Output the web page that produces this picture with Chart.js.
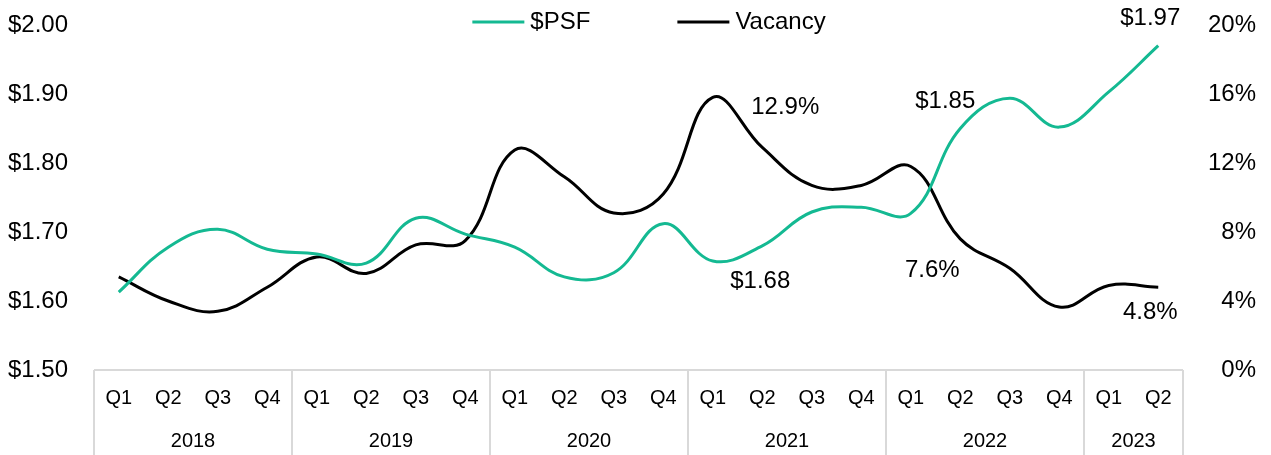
<!DOCTYPE html>
<html>
<head>
<meta charset="utf-8">
<script src="https://cdn.jsdelivr.net/npm/chart.js@4.4.0/dist/chart.umd.min.js"></script>
<style>
  html, body { margin: 0; padding: 0; background: #fff; }
  #wrap { width: 1271px; height: 455px; position: relative; }
</style>
</head>
<body>
<div id="wrap"><canvas id="chart"></canvas></div>
<script>
// Alquiler $PSF vs vacancia, trimestral 2018 Q1 – 2023 Q2
const quarters = ["Q1","Q2","Q3","Q4","Q1","Q2","Q3","Q4","Q1","Q2","Q3","Q4",
                  "Q1","Q2","Q3","Q4","Q1","Q2","Q3","Q4","Q1","Q2"];
const years = ["2018","2019","2020","2021","2022","2023"];
const yearSpans = [4, 4, 4, 4, 4, 2];

const psf = [1.613, 1.678, 1.704, 1.675, 1.668, 1.655, 1.72, 1.697, 1.678, 1.635, 1.641, 1.712,
             1.658, 1.68, 1.729, 1.736, 1.727, 1.85, 1.894, 1.852, 1.903, 1.97];
const vacancy = [5.4, 4.0, 3.4, 4.8, 6.55, 5.6, 7.25, 7.5, 12.75, 11.2, 9.1, 10.2,
                 15.8, 12.9, 10.7, 10.7, 11.8, 7.6, 5.9, 3.65, 4.9, 4.8];

const labeled = [13, 17, 21]; // puntos con etiqueta
const psfLabelOff = [[-2, 36], [-15, -27], [-8, -27]];
const vacLabelOff = [[23, -40], [-28, 31], [-8, 25]];

const TEAL = "#14b992";
const FONT = "'Liberation Sans', Arial, sans-serif";
const GRAY = "#d9d9d9";

const $ = (id) => document.getElementById(id);

const decor = {
  id: "decor",
  afterDraw(chart) {
    const ctx = chart.ctx;
    const x = chart.scales.x;
    const area = chart.chartArea;
    const H = chart.height;
    const half = (x.getPixelForValue(1) - x.getPixelForValue(0)) / 2;

    // caja de categorías
    ctx.save();
    ctx.strokeStyle = GRAY;
    ctx.lineWidth = 2;
    ctx.beginPath();
    ctx.moveTo(area.left, area.bottom);
    ctx.lineTo(area.right, area.bottom);
    let idx = 0;
    const edges = [x.getPixelForValue(0) - half];
    yearSpans.forEach((n) => { idx += n; edges.push(x.getPixelForValue(idx - 1) + half); });
    edges.forEach((px) => { ctx.moveTo(px, area.bottom); ctx.lineTo(px, H); });
    ctx.stroke();

    // años
    ctx.fillStyle = "#000";
    ctx.font = `20px ${FONT}`;
    ctx.textAlign = "center";
    ctx.textBaseline = "middle";
    years.forEach((y, i) => ctx.fillText(y, (edges[i] + edges[i + 1]) / 2, 441));

    // etiquetas de datos
    ctx.font = `24px ${FONT}`;
    const m0 = chart.getDatasetMeta(0).data, m1 = chart.getDatasetMeta(1).data;
    labeled.forEach((k, i) => {
      const p = m0[k], q = m1[k];
      ctx.fillText("$" + psf[k].toFixed(2), p.x + psfLabelOff[i][0], p.y + psfLabelOff[i][1]);
      ctx.fillText(vacancy[k].toFixed(1) + "%", q.x + vacLabelOff[i][0], q.y + vacLabelOff[i][1]);
    });

    // leyenda
    const items = chart.data.datasets.map((d) => ({ label: d.label, color: d.borderColor, w: ctx.measureText(d.label).width }));
    const lineW = 52, gap = 6, between = 87;
    const total = items.reduce((s, it) => s + lineW + gap + it.w, 0) + between * (items.length - 1);
    let lx = 649 - total / 2;
    const ly = 22;
    ctx.textAlign = "left";
    items.forEach((it) => {
      ctx.strokeStyle = it.color;
      ctx.lineWidth = 3;
      ctx.beginPath();
      ctx.moveTo(lx, ly);
      ctx.lineTo(lx + lineW, ly);
      ctx.stroke();
      ctx.fillText(it.label, lx + lineW + gap, ly);
      lx += lineW + gap + it.w + between;
    });
    ctx.restore();
  },
};

new Chart($("chart"), {
  type: "line",
  data: {
    labels: quarters,
    datasets: [
      { label: "$PSF", data: psf, yAxisID: "y", borderColor: TEAL, borderWidth: 3, tension: 0.4, pointRadius: 0 },
      { label: "Vacancy", data: vacancy, yAxisID: "y1", borderColor: "#000", borderWidth: 3, tension: 0.4, pointRadius: 0 },
    ],
  },
  options: {
    responsive: true,
    maintainAspectRatio: false,
    animation: false,
    layout: { padding: { left: 8, right: 15, top: 25, bottom: 0 } },
    plugins: { legend: { display: false }, tooltip: { enabled: false } },
    scales: {
      x: {
        offset: true,
        grid: { display: false, drawTicks: false, offset: true },
        border: { display: false },
        ticks: { color: "#000", font: { family: FONT, size: 20 }, padding: 16, maxRotation: 0, autoSkip: false },
        afterFit: (s) => { s.height = 85; },
      },
      y: {
        position: "left",
        min: 1.5, max: 2.0,
        grid: { display: false, drawTicks: false },
        border: { display: false },
        ticks: { stepSize: 0.1, color: "#000", font: { family: FONT, size: 24 }, crossAlign: "far",
                 callback: (v) => "$" + Number(v).toFixed(2) },
        afterFit: (s) => { s.width = 86; },
      },
      y1: {
        position: "right",
        min: 0, max: 20,
        grid: { display: false, drawTicks: false },
        border: { display: false },
        ticks: { stepSize: 4, color: "#000", font: { family: FONT, size: 24 }, crossAlign: "far",
                 callback: (v) => v + "%" },
        afterFit: (s) => { s.width = 73; },
      },
    },
  },
  plugins: [decor],
});
</script>
</body>
</html>
